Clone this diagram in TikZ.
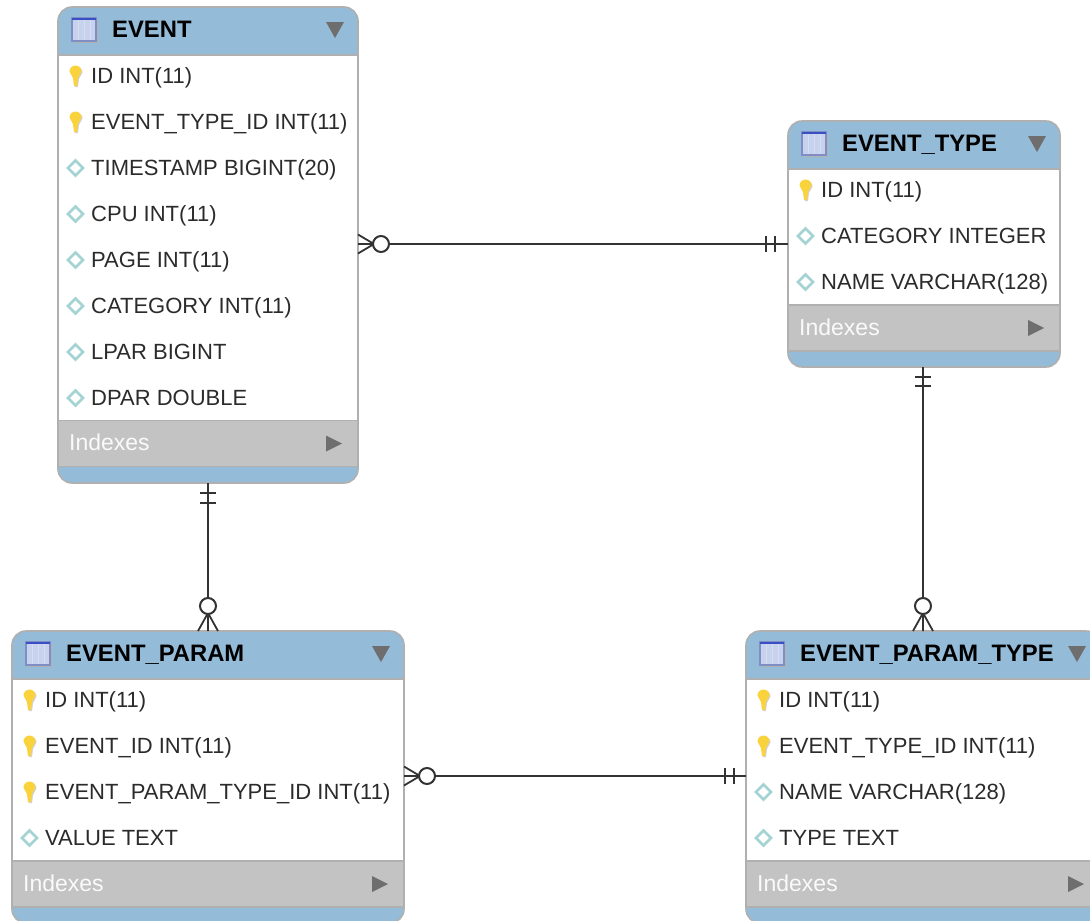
\documentclass[tikz,border=0pt]{standalone}
\usepackage{fontspec}
\setmainfont{Liberation Sans}
\definecolor{hdrblue}{HTML}{94BBD8}
\definecolor{idxgray}{HTML}{C3C3C3}
\definecolor{edgegray}{HTML}{B0B0B0}
\definecolor{tipgray}{HTML}{6E6E6E}
\definecolor{rowink}{HTML}{2B2B2B}
\definecolor{lineink}{HTML}{333333}
\definecolor{keyyellow}{HTML}{F9D23C}
\definecolor{diaedge}{HTML}{A5D3D3}
\definecolor{iconfill}{HTML}{C6D2EE}
\definecolor{iconedge}{HTML}{7F8FC6}
\definecolor{icontop}{HTML}{3B4FC4}
\tikzset{
  tablebox/.style={rectangle,rounded corners=14pt,anchor=north west,inner sep=0pt,outer sep=0pt},
  rowlabel/.style={anchor=base west,inner sep=0pt,text=rowink,font=\fontsize{22}{26}\selectfont},
  titlelabel/.style={anchor=base west,inner sep=0pt,text=black,font=\fontsize{23.8}{28}\selectfont\bfseries},
  indexlabel/.style={anchor=base west,inner sep=0pt,text=white!92!idxgray,font=\fontsize{23}{26}\selectfont},
  relline/.style={draw=lineink,line width=1.9pt},
}
\newcommand{\iconk}[2]{%
  \fill[gray!35,shift={(1,1)}] (#1-6,#2-4.5) arc[start angle=180,end angle=0,radius=6pt] -- (#1+2.5,#2+2) -- (#1+1.5,#2+10) -- (#1-1.5,#2+10) -- (#1-2.5,#2+2) -- cycle;
  \fill[keyyellow] (#1-6,#2-4.5) arc[start angle=180,end angle=0,radius=6pt] -- (#1+2.5,#2+2) -- (#1+1.5,#2+10) -- (#1-1.5,#2+10) -- (#1-2.5,#2+2) -- cycle;}
\newcommand{\icond}[2]{%
  \draw[diaedge,fill=white,line width=2.6pt] (#1-7.5,#2) -- (#1,#2-7.5) -- (#1+7.5,#2) -- (#1,#2+7.5) -- cycle;}
\newcommand{\ertable}[8]{% name, left, top, right, bottom, gray top, title, rows
  \node[tablebox,fill=hdrblue,minimum width={(#4-#2)*1pt},minimum height={(#5-#3)*1pt}] (#1) at (#2,#3) {};
  \fill[white] (#2,#3+48) rectangle (#4,#6);
  \fill[idxgray] (#2,#6) rectangle (#4,#6+46);
  \draw[edgegray,line width=1.4pt] (#2,#3+48) -- (#4,#3+48) (#2,#6) -- (#4,#6) (#2,#6+46) -- (#4,#6+46);
  \node[tablebox,draw=edgegray,line width=1.6pt,minimum width={(#4-#2)*1pt},minimum height={(#5-#3)*1pt}] (#1-frame) at (#2,#3) {};
  % table icon
  \fill[gray!60] (#2+16,#3+13) rectangle (#2+40,#3+36);
  \fill[iconfill] (#2+14,#3+11) rectangle (#2+38,#3+34);
  \draw[white!70!iconedge,line width=0.8pt] (#2+20,#3+13) -- (#2+20,#3+33) (#2+26,#3+13) -- (#2+26,#3+33) (#2+32,#3+13) -- (#2+32,#3+33);
  \draw[iconedge,line width=1.2pt] (#2+14,#3+11) rectangle (#2+38,#3+34);
  \draw[icontop,line width=2pt] (#2+14,#3+11.5) -- (#2+38,#3+11.5);
  \node[titlelabel] (#1-title) at (#2+54,#3+30.5) {#7};
  \fill[tipgray] (#4-32,#3+15) -- (#4-14,#3+15) -- (#4-23,#3+31) -- cycle;
  \foreach \rowkind/\rowtext [count=\rowi] in {#8}{
    \pgfmathsetmacro\rowy{#3+69+46*(\rowi-1)}
    \pgfmathsetmacro\rowx{#2+17.5}
    \csname icon\rowkind\endcsname{\rowx}{\rowy}
    \node[rowlabel] (#1-r\rowi) at (#2+33,\rowy+7.5) {\rowtext};
  }
  \node[indexlabel] (#1-idx) at (#2+11,#6+30) {Indexes};
  \fill[tipgray] (#4-32,#6+15) -- (#4-16,#6+23) -- (#4-32,#6+31) -- cycle;
}
% crow's foot with circle: args anchor, angle, circle distance, prong half-spread
\newcommand{\zeromany}[4]{%
  \begin{scope}[shift={(#1)},rotate=#2]
    \draw[lineink,line width=1.8pt] (0,#4) -- (#3-7,0) -- (0,-#4) (0,0) -- (#3-7,0);
    \draw[lineink,fill=white,line width=2pt] (#3,0) circle[radius=8pt];
  \end{scope}}
\newcommand{\onlyone}[4]{%
  \begin{scope}[shift={(#1)},rotate=#2]
    \draw[lineink,line width=1.8pt] (#3,-8) -- (#3,8) (#4,-8) -- (#4,8);
  \end{scope}}
\begin{document}
\begin{tikzpicture}[x=1pt,y=-1pt]
\useasboundingbox (0,0) rectangle (1090,921);
\clip (0,0) rectangle (1090,921);
\fill[white] (0,0) rectangle (1090,921);
\ertable{event}{58}{7}{358}{483}{420.5}{EVENT}{k/ID INT(11),k/EVENT\_TYPE\_ID INT(11),d/TIMESTAMP BIGINT(20),d/CPU INT(11),d/PAGE INT(11),d/CATEGORY INT(11),d/LPAR BIGINT,d/DPAR DOUBLE}
\ertable{etype}{788}{121}{1060}{367}{305}{EVENT\_TYPE}{k/ID INT(11),d/CATEGORY INTEGER,d/NAME VARCHAR(128)}
\ertable{eparam}{12}{631}{404}{923}{861}{EVENT\_PARAM}{k/ID INT(11),k/EVENT\_ID INT(11),k/EVENT\_PARAM\_TYPE\_ID INT(11),d/VALUE TEXT}
\ertable{eptype}{746}{631}{1100}{923}{861}{EVENT\_PARAM\_TYPE}{k/ID INT(11),k/EVENT\_TYPE\_ID INT(11),d/NAME VARCHAR(128),d/TYPE TEXT}
\coordinate (a1) at (event.east |- etype.west);
\coordinate (b2) at ([yshift=1pt]eptype.west);
\coordinate (a2) at (eparam.east |- b2);
\coordinate (c1) at (etype.south -| eptype.north);
\draw[relline] (a1) -- (etype.west);
\draw[relline] (event.south) -- (eparam.north);
\draw[relline] (c1) -- (eptype.north);
\draw[relline] (a2) -- (b2);
\zeromany{a1}{0}{23}{9.5}
\onlyone{etype.west}{180}{13}{22}
\zeromany{eparam.north}{90}{25}{10}
\onlyone{event.south}{-90}{10}{20}
\zeromany{eptype.north}{90}{25}{10}
\onlyone{c1}{-90}{10}{19}
\zeromany{a2}{0}{23}{9.5}
\onlyone{b2}{180}{12}{21}
\end{tikzpicture}
\end{document}
